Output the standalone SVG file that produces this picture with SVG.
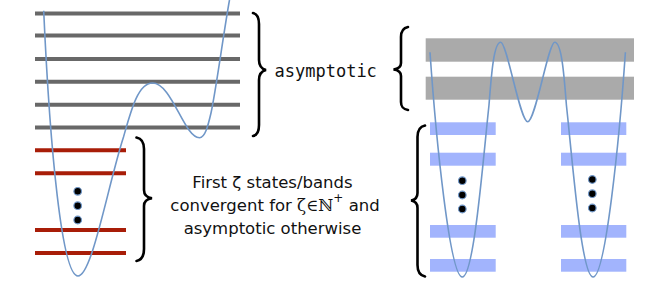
<svg xmlns="http://www.w3.org/2000/svg" width="664" height="285" viewBox="0 0 664 285">
<style>
.lvl{stroke:#686868;stroke-width:4;fill:none}
.red{stroke:#a81d08;stroke-width:4;fill:none}
.band{fill:#aaaaaa}
.blue{fill:#a2b4fd}
.curve{stroke:#7097c8;stroke-width:1.6;fill:none}
.brace{stroke:#000;stroke-width:2.6;fill:none;stroke-linecap:round}
.dot{fill:#000;stroke:#7097c8;stroke-width:1.2}
.lbl{font-family:"DejaVu Sans",sans-serif;font-size:16.5px;fill:#111;text-anchor:middle}
.mono{font-family:"DejaVu Sans Mono",monospace;font-size:17px;fill:#111}
</style>
<rect width="664" height="285" fill="#fff"/>
<g id="left-well">
<line class="lvl" x1="35" y1="13.5" x2="240" y2="13.5"/>
<line class="lvl" x1="35" y1="35.5" x2="240" y2="35.5"/>
<line class="lvl" x1="35" y1="59" x2="240" y2="59"/>
<line class="lvl" x1="35" y1="81.7" x2="240" y2="81.7"/>
<line class="lvl" x1="35" y1="104.7" x2="240" y2="104.7"/>
<line class="lvl" x1="35" y1="127.5" x2="240" y2="127.5"/>
<line class="red" x1="35" y1="150.3" x2="126" y2="150.3"/>
<line class="red" x1="35" y1="173.3" x2="126" y2="173.3"/>
<line class="red" x1="35" y1="230" x2="126" y2="230"/>
<line class="red" x1="35" y1="253" x2="126" y2="253"/>
<circle class="dot" cx="77.7" cy="191.3" r="3.8"/>
<circle class="dot" cx="77.7" cy="205.7" r="3.8"/>
<circle class="dot" cx="77.7" cy="220" r="3.8"/>
<path class="curve" d="M43.7,10.7 C50,150 62,276 78,276 C92,276 108,185 123.5,137 C131,110.5 138,83 152.5,83 C172,83 184,137.7 199.5,137.7 C205,137.7 208,126 211,113 C216,90 224,30 229.5,0"/>
</g>
<g id="right-well">
<rect class="band" x="425.7" y="38.3" width="208.3" height="23.4"/>
<rect class="band" x="425.7" y="76.7" width="208.3" height="23"/>
<rect class="blue" x="430" y="122.3" width="65.7" height="12.7"/>
<rect class="blue" x="430" y="152.7" width="65.7" height="13"/>
<rect class="blue" x="430" y="225" width="65.7" height="12.7"/>
<rect class="blue" x="430" y="259" width="65.7" height="12.7"/>
<rect class="blue" x="561" y="122.3" width="65.3" height="12.7"/>
<rect class="blue" x="561" y="152.7" width="65.3" height="13"/>
<rect class="blue" x="561" y="225" width="65.3" height="12.7"/>
<rect class="blue" x="561" y="259" width="65.3" height="12.7"/>
<circle class="dot" cx="462.3" cy="180.7" r="3.8"/>
<circle class="dot" cx="462.3" cy="195" r="3.8"/>
<circle class="dot" cx="462.3" cy="209" r="3.8"/>
<circle class="dot" cx="592.3" cy="179.5" r="3.8"/>
<circle class="dot" cx="592.3" cy="193.7" r="3.8"/>
<circle class="dot" cx="592.3" cy="208" r="3.8"/>
<path class="curve" d="M430,52.3 C436,140 450,277 462.3,277 C474,277 483,160 489,105 C491.5,72 494,42.3 500.7,42.3 C507,42.3 520,121.7 527.7,121.7 C535.4,121.7 548.4,42.3 554.7,42.3 C561.4,42.3 563.9,72 566.4,105 C572.4,160 581.4,277 593.1,277 C605.4,277 619.4,140 625.4,52.3"/>
</g>
<g id="connectors">
<path class="brace" d="M253,13 C258,14 259,18 259,24 L259,60 C259,66 262,69 266,70 C262,71 259,74 259,80 L259,125 C259,131 258,135 253,136"/>
<path class="brace" d="M408,27 C403,28 401,31 401,37 L401,63 C401,67 398,69 393.5,69.5 C398,70 401,72 401,76 L401,102 C401,107 403,109 408,110"/>
<path class="brace" d="M425,125.5 C420,126.5 417.5,130 417.5,137 L417.5,193 C417.5,198 415,200 411,200.5 C415,201 417.5,203 417.5,208 L417.5,265 C417.5,272 420,275.5 425,276.5"/>
<path class="brace" d="M136.5,137.5 C141.5,138.5 144,142 144,149 L144,190 C144,195 147,197.5 152,198.3 C147,199 144,201.5 144,206 L144,249 C144,256 141.5,260 136.5,261"/>
</g>
<g id="labels">
<text class="mono" x="274.5" y="77">asymptotic</text>
<text class="lbl" x="272.5" y="187.5">First ζ states/bands</text>
<text class="lbl" x="275" y="211">convergent for <tspan font-family="DejaVu Serif,serif">ζ∈ℕ</tspan><tspan font-size="12" dy="-9">+</tspan><tspan dy="9"> and</tspan></text>
<text class="lbl" x="272.5" y="234">asymptotic otherwise</text>
</g>
</svg>
